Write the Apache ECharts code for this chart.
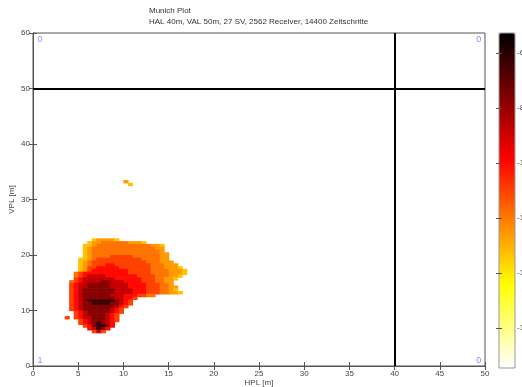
<!DOCTYPE html>
<html>
<head>
<meta charset="utf-8">
<script src="https://cdn.jsdelivr.net/npm/echarts@6/dist/echarts.min.js"></script>
<style>
  html, body { margin: 0; padding: 0; background: #fff; }
  #chart { width: 522px; height: 387px; }
</style>
</head>
<body>
<div id="chart"></div>
<script>
// Axis ticks
const xTicks = [0, 5, 10, 15, 20, 25, 30, 35, 40, 45, 50];
const yTicks = [0, 10, 20, 30, 40, 50, 60];
const colorbarTicks = [-16, -14, -12, -10, -8, -6];
const colorbarMin = -17.45;
const colorbarMax = -5.27;

// Alert limits
const hal = 40;
const val = 50;

// Epoch counts per region: [HPL, VPL, count]
const regionCounts = [
  [0.77, 58.9, '0'],
  [49.3, 58.9, '0'],
  [0.77, 0.9, '1'],
  [49.3, 0.9, '0']
];

// log10 occurrence per level digit ('0' .. '9')
const levelValues = [-6.3, -7.7, -8.8, -10.0, -11.0, -11.9, -12.6, -13.3, -14.2, -15];

// Histogram bins of 0.5 m; rows from VPL 23.5 m downward, columns from HPL 3.5 m
const binSize = 0.5;
const mainX0 = 3.5;
const mainYTop = 23.5;
const mainRows = [
  "............................",
  "......766667................",
  ".....7665555556667..........",
  "....776555555555555667......",
  "....765555555555555566......",
  "....765555555555555556......",
  "....7655555555555555566.....",
  "....7655554444455555566.....",
  "...77654444444444555566.....",
  "...765444444444444555666....",
  "...7654443344444444555666...",
  "...76443333344444445556667..",
  "...764333333334444455556667.",
  "..5433333333334444455556667.",
  "..543222233333334444555667..",
  "..43222222233333344455667...",
  ".54322221122233334445566....",
  ".43221111122223333444556....",
  ".432211111222233334445566...",
  ".432111111122223334445567...",
  ".4321111111222233344455667..",
  ".4321111112223334455........",
  ".432111111122334............",
  ".43210000001234.............",
  ".43211000011234.............",
  ".4321111111234..............",
  ".432111111234...............",
  "..43211111234...............",
  "..4321111234................",
  "4.4322111234................",
  "...432111234................",
  "...43210123.................",
  "....4310013.................",
  ".....32013..................",
  "......424..................."
];

// Isolated outlier near (10 m, 33 m)
const spotX0 = 10.0;
const spotYTop = 33.5;
const spotRows = [
  "6.",
  ".7"
];

function binsFrom(rows, x0, yTop) {
  const out = [];
  rows.forEach(function (row, r) {
    for (let i = 0; i < row.length; i++) {
      const ch = row[i];
      if (ch === '.') continue;
      out.push([x0 + (i + 0.5) * binSize, yTop - (r + 0.5) * binSize, levelValues[+ch]]);
    }
  });
  return out;
}

const bins = binsFrom(mainRows, mainX0, mainYTop).concat(binsFrom(spotRows, spotX0, spotYTop));

const FONT = '"Liberation Sans", Arial, sans-serif';
const AXIS = '#555';
const TEXT = '#444';

const chart = echarts.init(document.getElementById('chart'), null, { renderer: 'canvas' });

function renderBin(params, api) {
  const h = binSize / 2;
  const x = api.value(0);
  const y = api.value(1);
  const p0 = api.coord([x - h, y + h]);
  const p1 = api.coord([x + h, y - h]);
  return {
    type: 'rect',
    shape: { x: p0[0], y: p0[1], width: p1[0] - p0[0] + 0.6, height: p1[1] - p0[1] + 0.6 },
    style: { fill: api.visual('color') }
  };
}

const tickStyle = { inside: true, length: 4, lineStyle: { color: AXIS, width: 1 } };
const lineStyle = { show: true, lineStyle: { color: AXIS, width: 1 } };
const labelStyle = { fontSize: 8, color: TEXT, fontFamily: FONT };

const option = {
  animation: false,
  backgroundColor: '#fff',
  title: {
    left: 149,
    top: 7,
    padding: 0,
    itemGap: 3,
    text: 'Munich Plot',
    subtext: 'HAL 40m, VAL 50m, 27 SV, 2562 Receiver, 14400 Zeitschritte',
    textStyle: { fontSize: 8, fontWeight: 'normal', color: '#333', fontFamily: FONT },
    subtextStyle: { fontSize: 8, color: '#333', fontFamily: FONT }
  },
  grid: [
    { left: 33, top: 33, width: 452, height: 333, show: true, borderColor: AXIS, borderWidth: 1, backgroundColor: '#fff', containLabel: false, outerBoundsMode: 'none' },
    { left: 499, top: 33, width: 16, height: 335, show: true, borderColor: '#999', borderWidth: 1, z: 10, containLabel: false, outerBoundsMode: 'none' }
  ],
  xAxis: [
    {
      gridIndex: 0, type: 'value', min: xTicks[0], max: xTicks[xTicks.length - 1], interval: 5,
      position: 'bottom',
      name: 'HPL [m]', nameLocation: 'middle', nameGap: 13,
      nameMoveOverlap: false,
      nameTextStyle: labelStyle,
      axisLine: lineStyle, axisTick: tickStyle,
      axisLabel: Object.assign({ margin: 4 }, labelStyle),
      splitLine: { show: false }
    },
    {
      gridIndex: 0, type: 'value', min: xTicks[0], max: xTicks[xTicks.length - 1], interval: 5,
      position: 'top',
      axisLine: lineStyle, axisTick: tickStyle,
      axisLabel: { show: false }, splitLine: { show: false }
    },
    { gridIndex: 1, type: 'value', min: 0, max: 1, show: false }
  ],
  yAxis: [
    {
      gridIndex: 0, type: 'value', min: yTicks[0], max: yTicks[yTicks.length - 1], interval: 10,
      position: 'left',
      name: 'VPL [m]', nameLocation: 'middle', nameGap: 17,
      nameMoveOverlap: false,
      nameTextStyle: labelStyle,
      axisLine: lineStyle, axisTick: tickStyle,
      axisLabel: Object.assign({ margin: 3 }, labelStyle),
      splitLine: { show: false }
    },
    {
      gridIndex: 0, type: 'value', min: yTicks[0], max: yTicks[yTicks.length - 1], interval: 10,
      position: 'right',
      axisLine: lineStyle, axisTick: tickStyle,
      axisLabel: { show: false }, splitLine: { show: false }
    },
    {
      gridIndex: 1, type: 'value', min: colorbarMin, max: colorbarMax,
      position: 'right', z: 10,
      axisLine: { show: false },
      axisTick: { inside: true, length: 3, customValues: colorbarTicks, lineStyle: { color: '#555' } },
      axisLabel: Object.assign({ margin: 2, customValues: colorbarTicks, align: 'left' }, labelStyle),
      splitLine: { show: false }
    },
    {
      gridIndex: 1, type: 'value', min: colorbarMin, max: colorbarMax,
      position: 'left', z: 10,
      axisLine: { show: false },
      axisTick: { inside: true, length: 3, customValues: colorbarTicks, lineStyle: { color: '#555' } },
      axisLabel: { show: false },
      splitLine: { show: false }
    }
  ],
  visualMap: {
    type: 'continuous',
    seriesIndex: 0,
    dimension: 2,
    min: colorbarMin,
    max: colorbarMax,
    calculable: false,
    hoverLink: false,
    orient: 'vertical',
    left: 499,
    top: 33,
    padding: 0,
    itemWidth: 16,
    itemHeight: 335,
    text: null,
    textStyle: { color: 'rgba(0,0,0,0)' },
    inRange: {
      color: ['#ffffff', '#ffff80', '#ffff00', '#ffaa00', '#ff5500', '#ff0000', '#aa0000', '#550000', '#000000']
    }
  },
  series: [
    {
      type: 'custom',
      xAxisIndex: 0,
      yAxisIndex: 0,
      clip: true,
      renderItem: renderBin,
      dimensions: ['hpl', 'vpl', 'log'],
      data: bins,
      silent: true
    },
    {
      type: 'scatter',
      xAxisIndex: 0,
      yAxisIndex: 0,
      symbolSize: 0,
      silent: true,
      data: regionCounts,
      label: {
        show: true,
        position: 'inside',
        formatter: function (p) { return p.value[2]; },
        fontSize: 9,
        color: '#7070ff',
        fontFamily: FONT
      },
      markLine: {
        silent: true,
        symbol: ['none', 'none'],
        label: { show: false },
        lineStyle: { color: '#000', width: 2, type: 'solid' },
        data: [{ xAxis: hal }, { yAxis: val }]
      }
    }
  ]
};

chart.setOption(option);
</script>
</body>
</html>
